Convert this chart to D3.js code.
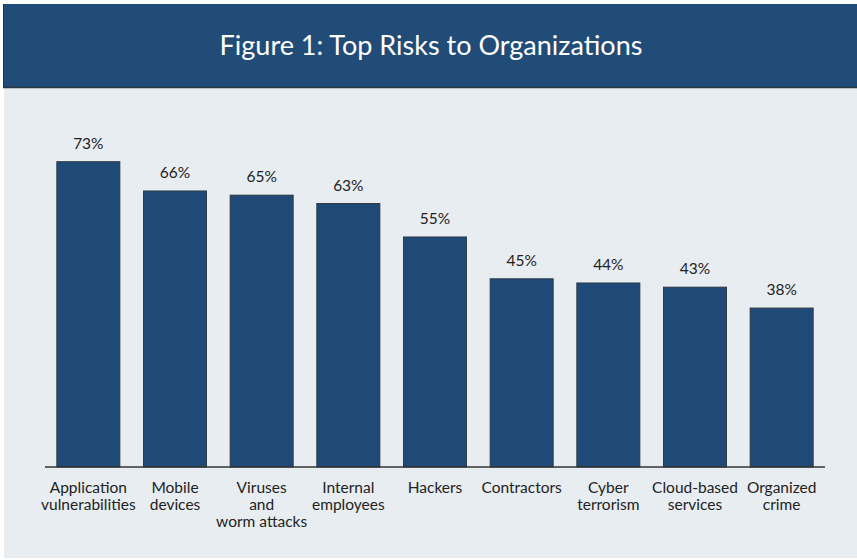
<!DOCTYPE html>
<html>
<head>
<meta charset="utf-8">
<script src="https://cdn.jsdelivr.net/npm/d3@7/dist/d3.min.js"></script>
<style>
  html, body { margin: 0; padding: 0; background: #ffffff; }
  svg { display: block; }
  text { font-family: Lato, "Open Sans", sans-serif; }
</style>
</head>
<body>
<svg id="chart" width="857" height="560"></svg>
<script>
const title = "Figure 1: Top Risks to Organizations";
const categories = [
  ["Application", "vulnerabilities"],
  ["Mobile", "devices"],
  ["Viruses", "and", "worm attacks"],
  ["Internal", "employees"],
  ["Hackers"],
  ["Contractors"],
  ["Cyber", "terrorism"],
  ["Cloud-based", "services"],
  ["Organized", "crime"]
];
const values = [73, 66, 65, 63, 55, 45, 44, 43, 38];

const svg = d3.select("#chart");
const W = 857, H = 560;

// panel background
svg.append("rect").attr("x", 4).attr("y", 87).attr("width", W - 4).attr("height", 471)
  .attr("fill", "#e8edf1");
// header bar
svg.append("rect").attr("x", 3).attr("y", 4).attr("width", W - 3).attr("height", 84)
  .attr("fill", "#214c78");
svg.append("line").attr("x1", 3).attr("x2", W).attr("y1", 87.5).attr("y2", 87.5)
  .attr("stroke", "#2a3440").attr("stroke-width", 1.5);
svg.append("line").attr("x1", 3.5).attr("x2", 3.5).attr("y1", 4).attr("y2", 88)
  .attr("stroke", "#2a3440").attr("stroke-width", 1);

svg.append("text").attr("x", 431).attr("y", 55)
  .attr("text-anchor", "middle").attr("fill", "#ffffff")
  .attr("font-size", 27).text(title);

const idx = d3.range(values.length);
const x = d3.scaleBand().domain(idx).range([45, 825]).paddingInner(0.273).paddingOuter(0.1365);
const y = d3.scaleLinear().domain([0, 73]).range([467, 161.7]);

svg.append("g").selectAll("rect").data(idx).join("rect")
  .attr("x", i => x(i))
  .attr("y", i => y(values[i]))
  .attr("width", x.bandwidth())
  .attr("height", i => y(0) - y(values[i]))
  .attr("fill", "#1f4a77")
  .attr("stroke", "#2e3a46")
  .attr("stroke-width", 1);

svg.append("g").selectAll("text").data(idx).join("text")
  .attr("x", i => x(i) + x.bandwidth() / 2)
  .attr("y", i => y(values[i]) - 13)
  .attr("text-anchor", "middle")
  .attr("font-size", 15.5)
  .attr("fill", "#222222")
  .text(i => values[i] + "%");

// axis line
const axis = d3.axisBottom(x).tickSize(0).tickFormat("");
const ag = svg.append("g").attr("transform", "translate(0,467)").call(axis);
ag.select(".domain").attr("stroke", "#333333").attr("stroke-width", 1.5).attr("d", "M45,0H825");

const lab = svg.append("g").selectAll("text").data(idx).join("text")
  .attr("text-anchor", "middle")
  .attr("font-size", 15.5)
  .attr("fill", "#222222");
lab.each(function(i) {
  const t = d3.select(this);
  categories[i].forEach((line, k) => {
    t.append("tspan")
      .attr("x", x(i) + x.bandwidth() / 2)
      .attr("y", 493 + k * 17)
      .text(line);
  });
});
</script>
</body>
</html>
